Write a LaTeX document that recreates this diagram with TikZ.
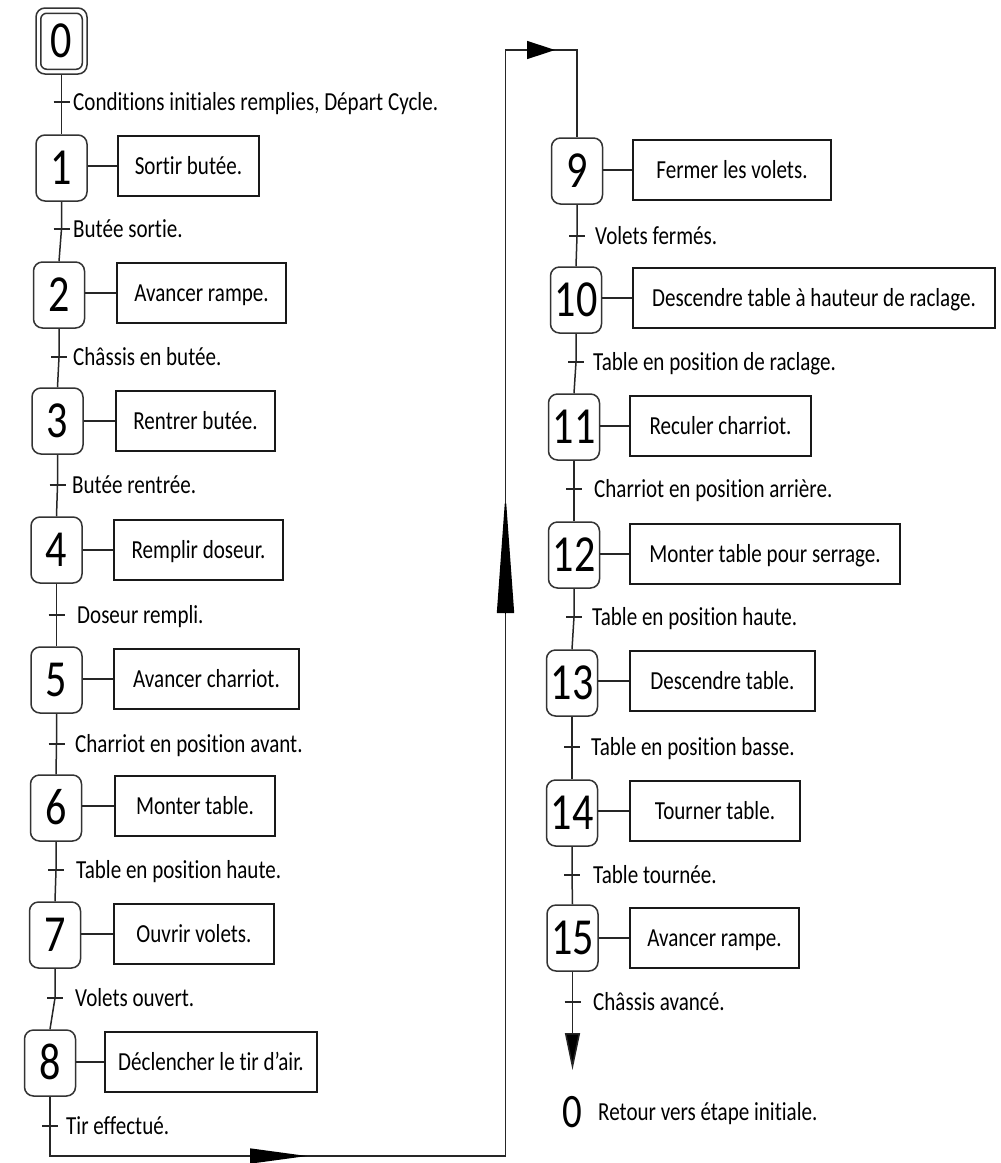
\documentclass[tikz,border=0pt]{standalone}
\usepackage{fontspec}
\setmainfont{Carlito}[FakeStretch=0.81,Ligatures={NoCommon,NoRare,NoDiscretionary}]
\usetikzlibrary{arrows.meta,calc}
\newcommand\mylbl{\fontsize{26}{30}\selectfont}
\newcommand\mydig{\fontsize{52}{56}\selectfont}
\begin{document}
\begin{tikzpicture}[x=1pt,y=-1pt,
  stepbox/.style={draw=black!80, line width=1.5pt, rounded corners=9pt, minimum width=51pt, minimum height=66pt, inner sep=0pt, font=\mydig, text height=33pt, text depth=0pt, fill=white},
  actbox/.style={draw=black!90, line width=2pt, anchor=west, minimum height=60pt, inner sep=0pt, font=\mylbl, text height=16.5pt, text depth=0pt},
  flow/.style={draw=black!85, line width=1.5pt},
  tickline/.style={draw=black!85, line width=1.5pt},
  bigtip/.style={draw=black, fill=black, line width=1.5pt},
  trlabel/.style={anchor=base west, inner sep=0pt, font=\mylbl}]
\fill[white] (0,0) rectangle (1001,1163);
\useasboundingbox (0,0) rectangle (1001,1163);

% ---------- steps ----------
\node[stepbox] (s0) at (61.5,41) {0};
\draw[black!80, line width=1.5pt, rounded corners=6pt] ([shift={(5.5,6)}]s0.north west) rectangle ([shift={(-5.5,-5.5)}]s0.south east);
\node[stepbox] (s1) at (61.5,168) {1};
\node[stepbox] (s2) at (59,295) {2};
\node[stepbox] (s3) at (57.5,421) {3};
\node[stepbox] (s4) at (56.5,550) {4};
\node[stepbox] (s5) at (56.5,680) {5};
\node[stepbox] (s6) at (56,808) {6};
\node[stepbox] (s7) at (55,935) {7};
\node[stepbox] (s8) at (50,1063) {8};
\node[stepbox] (s9) at (577,171) {9};
\node[stepbox] (s10) at (576,300) {10};
\node[stepbox] (s11) at (574,427) {11};
\node[stepbox] (s12) at (574,555) {12};
\node[stepbox] (s13) at (572,683) {13};
\node[stepbox] (s14) at (572,813) {14};
\node[stepbox] (s15) at (572.5,938) {15};

% ---------- actions ----------
\node[actbox, minimum width=141pt] (a1) at (117,166) {Sortir butée.};
\node[actbox, minimum width=169pt] (a2) at (116,293) {Avancer rampe.};
\node[actbox, minimum width=159pt] (a3) at (115,421) {Rentrer butée.};
\node[actbox, minimum width=169pt] (a4) at (113,550) {Remplir doseur.};
\node[actbox, minimum width=185pt] (a5) at (113,679) {Avancer charriot.};
\node[actbox, minimum width=160pt] (a6) at (114,806) {Monter table.};
\node[actbox, minimum width=160pt] (a7) at (113,934) {Ouvrir volets.};
\node[actbox, minimum width=212pt] (a8) at (104,1062) {Déclencher le tir d’air.};
\node[actbox, minimum width=198pt] (a9) at (632,170) {Fermer les volets.};
\node[actbox, minimum width=362pt] (a10) at (632,298) {Descendre table à hauteur de raclage.};
\node[actbox, minimum width=181pt] (a11) at (629,426) {Reculer charriot.};
\node[actbox, minimum width=270pt] (a12) at (629,554) {Monter table pour serrage.};
\node[actbox, minimum width=185pt] (a13) at (629,681) {Descendre table.};
\node[actbox, minimum width=170pt] (a14) at (629,811) {Tourner table.};
\node[actbox, minimum width=169pt] (a15) at (629,938) {Avancer rampe.};

% ---------- step-action links ----------
\foreach \i in {1,...,15} {
  \draw[flow] (a\i.west) -- (a\i.west -| s\i.east);
}

% ---------- transitions ----------
\coordinate (t0) at (s0.south |- 0,102);
\coordinate (t1) at (s1.south |- 0,229);
\coordinate (t2) at (s2.south |- 0,357);
\coordinate (t3) at (s3.south |- 0,485);
\coordinate (t4) at (s4.south |- 0,615);
\coordinate (t5) at (s5.south |- 0,744);
\coordinate (t6) at (s6.south |- 0,870);
\coordinate (t7) at (s7.south |- 0,998);
\coordinate (t8) at (s8.south |- 0,1126);
\coordinate (t9) at (s9.south |- 0,236);
\coordinate (t10) at (s10.south |- 0,362);
\coordinate (t11) at (s11.south |- 0,489);
\coordinate (t12) at (s12.south |- 0,617);
\coordinate (t13) at (s13.south |- 0,747);
\coordinate (t14) at (s14.south |- 0,875);
\coordinate (t15) at (s15.south |- 0,1002);

\foreach \i/\j in {0/1,1/2,2/3,3/4,4/5,5/6,6/7,7/8,9/10,10/11,11/12,12/13,13/14,14/15} {
  \draw[flow] (s\i.south) -- (t\i) -- (s\j.north);
}
\foreach \i in {0,...,15} {
  \draw[tickline] ([xshift=-8pt]t\i) -- ([xshift=8pt]t\i);
}

\node[trlabel] (l0) at (73,110.2) {Conditions initiales remplies, Départ Cycle.};
\node[trlabel] (l1) at (73,237.2) {Butée sortie.};
\node[trlabel] (l2) at (73,365.2) {Châssis en butée.};
\node[trlabel] (l3) at (72,493.2) {Butée rentrée.};
\node[trlabel] (l4) at (77,623.2) {Doseur rempli.};
\node[trlabel] (l5) at (75,752.2) {Charriot en position avant.};
\node[trlabel] (l6) at (76,878.2) {Table en position haute.};
\node[trlabel] (l7) at (75,1006.2) {Volets ouvert.};
\node[trlabel] (l8) at (66,1134.2) {Tir effectué.};
\node[trlabel] (l9) at (595,244.2) {Volets fermés.};
\node[trlabel] (l10) at (593,370.2) {Table en position de raclage.};
\node[trlabel] (l11) at (594,497.2) {Charriot en position arrière.};
\node[trlabel] (l12) at (592,625.2) {Table en position haute.};
\node[trlabel] (l13) at (591,755.2) {Table en position basse.};
\node[trlabel] (l14) at (593,883.2) {Table tournée.};
\node[trlabel] (l15) at (593,1010.2) {Châssis avancé.};

% ---------- loop from step 8 to step 9 ----------
\coordinate (cBL) at (s8.south |- 0,1156);
\coordinate (cBR) at (505.5,1156);
\coordinate (cTL) at (505.5,50);
\coordinate (cTR) at (s9.north |- 0,50);
\draw[flow, line join=miter] (s8.south) -- (t8) -- (cBL) -- (cBR) -- (cTL) -- (cTR) -- (s9.north);

\coordinate (ab1) at (250,1156);
\coordinate (ab1t) at (307,1156);
\draw[bigtip, -{Triangle[length=57pt,width=15pt]}] (ab1) -- (ab1t);
\coordinate (au1) at (505.5,613);
\coordinate (au1t) at (505.5,493);
\draw[bigtip, -{Triangle[length=120pt,width=17pt]}] (au1) -- (au1t);
\coordinate (at1) at (527,50);
\coordinate (at1t) at (555,50);
\draw[bigtip, -{Triangle[length=28pt,width=18pt]}] (at1) -- (at1t);

% ---------- end: return to step 0 ----------
\coordinate (zend) at (572.5,1070);
\draw[flow] (s15.south) -- (t15);
\draw[flow, -{Triangle[length=37pt,width=15pt,fill=black]}] (t15) -- (zend);
\node[font=\fontsize{48}{52}\selectfont, inner sep=0pt, text height=30pt, text depth=0pt] (ret0) at (572,1112) {0};
\node[trlabel] (lret) at (598,1120.2) {Retour vers étape initiale.};
\end{tikzpicture}
\end{document}
